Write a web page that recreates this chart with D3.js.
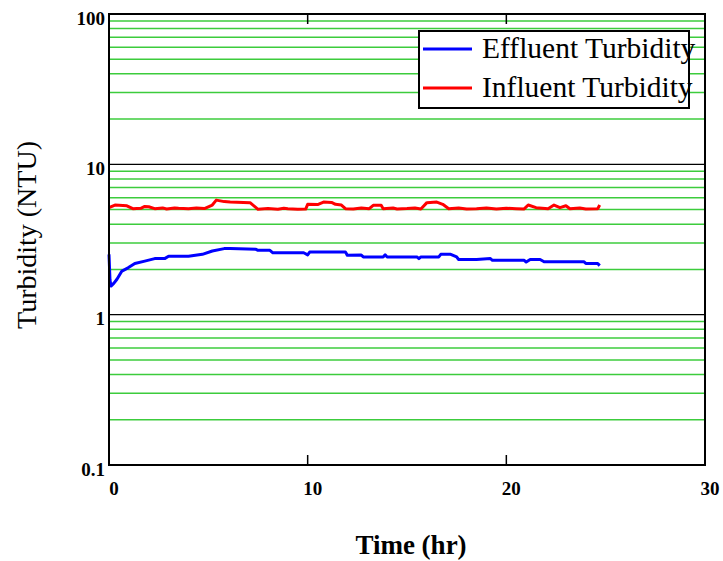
<!DOCTYPE html>
<html>
<head>
<meta charset="utf-8">
<script src="https://cdn.jsdelivr.net/npm/d3@7"></script>
<style>
html,body{margin:0;padding:0;background:#fff;}
</style>
</head>
<body>
<svg id="chart" width="723" height="561"></svg>
<script>
// ---- data ----
const effluentTime = [0,0.05,0.1,0.25,0.4,0.65,0.96,1.3,1.8,2.3,2.8,3.0,4.0,4.7,5.2,5.8,6.1,7.4,7.5,8.1,8.25,9.8,10.0,10.1,11.9,12.0,12.7,12.8,13.8,13.9,14.0,15.5,15.6,15.7,16.6,16.7,17.2,17.5,17.6,18.5,19.2,19.3,20.9,21.0,21.2,21.7,21.9,23.9,24.0,24.6,24.7];
const effluentNTU  = [2.52,1.70,1.55,1.62,1.72,1.95,2.05,2.19,2.27,2.36,2.36,2.45,2.45,2.52,2.65,2.75,2.75,2.72,2.68,2.68,2.58,2.58,2.50,2.61,2.61,2.48,2.49,2.42,2.42,2.50,2.42,2.42,2.36,2.42,2.42,2.52,2.52,2.42,2.33,2.33,2.36,2.30,2.30,2.24,2.33,2.33,2.25,2.25,2.19,2.19,2.12];
const influentTime = [0,0.3,0.9,1.2,1.6,1.8,2.0,2.3,2.7,2.9,3.3,3.5,4.0,4.4,4.8,5.2,5.4,5.8,6.1,7.1,7.4,7.5,8.0,8.5,8.8,9.0,9.5,9.9,10.0,10.5,10.8,11.2,11.4,11.7,11.9,12.3,12.7,13.1,13.3,13.7,13.8,14.3,14.5,15.0,15.4,15.7,16.0,16.5,16.8,17.1,17.6,18.0,18.5,19.0,19.5,20.0,20.5,20.9,21.1,21.5,22.1,22.4,22.7,23.0,23.2,23.7,24.0,24.6,24.7];
const influentNTU  = [5.15,5.36,5.30,5.07,5.10,5.25,5.22,5.07,5.13,5.05,5.12,5.10,5.07,5.12,5.08,5.36,5.78,5.65,5.61,5.56,5.15,5.02,5.08,5.02,5.10,5.06,5.02,5.04,5.42,5.40,5.61,5.58,5.42,5.36,5.07,5.05,5.12,5.07,5.34,5.34,5.07,5.12,5.05,5.08,5.12,5.05,5.56,5.61,5.42,5.07,5.12,5.05,5.07,5.12,5.04,5.10,5.07,5.05,5.36,5.15,5.07,5.36,5.15,5.30,5.07,5.12,5.05,5.07,5.36];
const xTicks = [0,10,20,30];
const yTickLabels = ["0.1","1","10","100"];
const yTickValues = [0.1,1,10,100];
const seriesNames = ["Effluent Turbidity","Influent Turbidity"];
const seriesColors = ["#0000ff","#ff0000"];

// ---- layout ----
const FONT = "'Liberation Serif', 'Times New Roman', Times, 'DejaVu Serif', serif";
const svg = d3.select("#chart").attr("font-family", FONT);
const L = 109, R = 705, T = 14, B = 465;
const x = d3.scaleLinear().domain([0,30]).range([L,R]);
const y = d3.scaleLog().domain([0.1,100]).range([B,T]);

// grid: minor (green) lines
const minor = [];
[0.1,1,10].forEach(d => { for (let k=2;k<=9;k++) minor.push(d*k); });
svg.append("g").selectAll("line").data(minor).join("line")
  .attr("x1",L).attr("x2",R)
  .attr("y1",d=>y(d)).attr("y2",d=>y(d))
  .attr("stroke","#3ccc3c").attr("stroke-width",1.5);
// decade lines
svg.append("g").selectAll("line").data([1,10]).join("line")
  .attr("x1",L).attr("x2",R)
  .attr("y1",d=>y(d)).attr("y2",d=>y(d))
  .attr("stroke","#000").attr("stroke-width",1.2);

// inward x ticks top and bottom
const innerTicks = xTicks.filter(d=>d>0 && d<30);
svg.append("g").selectAll("line").data(innerTicks).join("line")
  .attr("x1",d=>x(d)).attr("x2",d=>x(d)).attr("y1",B).attr("y2",B-10)
  .attr("stroke","#000").attr("stroke-width",1.5);
svg.append("g").selectAll("line").data(innerTicks).join("line")
  .attr("x1",d=>x(d)).attr("x2",d=>x(d)).attr("y1",T).attr("y2",T+10)
  .attr("stroke","#000").attr("stroke-width",1.5);

// data lines
const line = d3.line().x(d=>x(d[0])).y(d=>y(d[1]));
const eff = effluentTime.map((t,i)=>[t,effluentNTU[i]]);
const inf = influentTime.map((t,i)=>[t,influentNTU[i]]);
svg.append("path").datum(inf).attr("d",line).attr("fill","none")
  .attr("stroke",seriesColors[1]).attr("stroke-width",3).attr("stroke-linejoin","round");
svg.append("path").datum(eff).attr("d",line).attr("fill","none")
  .attr("stroke",seriesColors[0]).attr("stroke-width",3).attr("stroke-linejoin","round");

// frame
svg.append("rect").attr("x",L).attr("y",T).attr("width",R-L).attr("height",B-T)
  .attr("fill","none").attr("stroke","#000").attr("stroke-width",2);

// y tick labels
svg.append("g").selectAll("text").data(yTickValues).join("text")
  .attr("x",105).attr("y",d=>y(d)+4).attr("dy","0.35em")
  .attr("text-anchor","end").attr("font-weight","bold").attr("font-size",19)
  .text((d,i)=>yTickLabels[i]);
// x tick labels
svg.append("g").selectAll("text").data(xTicks).join("text")
  .attr("x",d=>x(d)+5).attr("y",488).attr("dy","0.35em")
  .attr("text-anchor","middle").attr("font-weight","bold").attr("font-size",19)
  .text(d=>d);

// axis titles
svg.append("text").attr("transform","translate(36,235) rotate(-90)")
  .attr("text-anchor","middle").attr("font-size",28).text("Turbidity (NTU)");
svg.append("text").attr("x",411).attr("y",554)
  .attr("text-anchor","middle").attr("font-weight","bold").attr("font-size",27).text("Time (hr)");

// legend
const lg = svg.append("g");
lg.append("rect").attr("x",419).attr("y",31).attr("width",270).attr("height",77)
  .attr("fill","#fff").attr("stroke","#000").attr("stroke-width",2);
const ly = [49,88];
seriesNames.forEach((n,i)=>{
  lg.append("line").attr("x1",423).attr("x2",472).attr("y1",ly[i]).attr("y2",ly[i])
    .attr("stroke",seriesColors[i]).attr("stroke-width",3);
  lg.append("text").attr("x",482).attr("y",ly[i]+9).attr("font-size",29.5).text(n);
});
</script>
</body>
</html>
